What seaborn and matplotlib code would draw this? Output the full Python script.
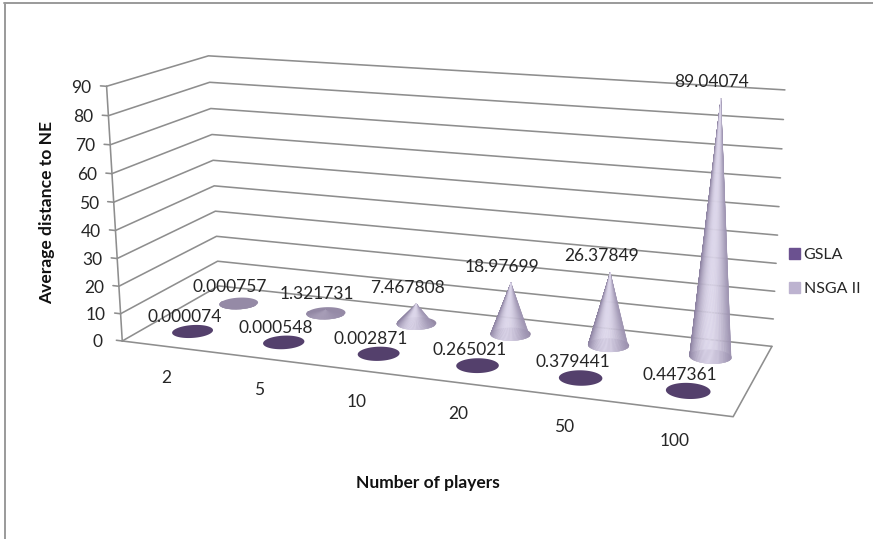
import numpy as np
import pandas as pd
import matplotlib
matplotlib.use("Agg")
import matplotlib.pyplot as plt
from matplotlib.collections import PolyCollection
from matplotlib.colors import to_rgb
from matplotlib.patches import Patch
import seaborn as sns

categories = ["2", "5", "10", "20", "50", "100"]
gsla = [0.000074, 0.000548, 0.002871, 0.265021, 0.379441, 0.447361]
nsga = [0.000757, 1.321731, 7.467808, 18.97699, 26.37849, 89.04074]
gsla_labels = ["0.000074", "0.000548", "0.002871", "0.265021", "0.379441", "0.447361"]
nsga_labels = ["0.000757", "1.321731", "7.467808", "18.97699", "26.37849", "89.04074"]
y_ticks = list(range(0, 100, 10))
Y_MAX = 90.0

sns.set_theme(style="white")
plt.rcParams["font.family"] = ["Lato", "DejaVu Sans"]

TEXT = "#262626"
GRID = "#8e8e8e"
DISC = "#54406c"
FLAT_CONE = "#958aa6"
CONE_DARK = np.array(to_rgb("#8a7f9f"))
CONE_LIGHT = np.array(to_rgb("#dcd6ea"))

# Perspective camera: box coordinates (x along categories, z into depth,
# h = value / Y_MAX) are fitted to where the box corners sit on the canvas.
box = np.array([(0, 0, 0), (0, 0, 1), (0, 1, 0), (0, 1, 1), (1, 1, 0), (1, 1, 1), (1, 0, 0)], float)
canvas = np.array([(122, 341), (107, 86), (219, 286), (208, 56), (772, 346), (785, 90), (733, 417)], float)
rows, rhs = [], []
for (bx, bz, bh), (u, v) in zip(box, canvas):
    rows.append([bx, bz, bh, 1, 0, 0, 0, 0, -u * bx, -u * bz, -u * bh])
    rows.append([0, 0, 0, 0, bx, bz, bh, 1, -v * bx, -v * bz, -v * bh])
    rhs += [u, v]
cam = np.append(np.linalg.lstsq(np.array(rows), np.array(rhs), rcond=None)[0], 1.0).reshape(3, 4)


def project(x, z, value):
    x, z, value = np.broadcast_arrays(np.asarray(x, float), np.asarray(z, float), np.asarray(value, float))
    pts = np.stack([x, z, value / Y_MAX, np.ones_like(x)], axis=-1) @ cam.T
    return pts[..., 0] / pts[..., 2], pts[..., 1] / pts[..., 2]


fig = plt.figure(figsize=(8.73, 5.39), dpi=100)
ax = fig.add_axes([0, 0, 1, 1])
ax.set_xlim(0, 873)
ax.set_ylim(539, 0)
ax.axis("off")

# Outer chart frame
ax.plot([5, 5], [2.5, 539], color="#9a9a9a", lw=1.4)
ax.plot([4.3, 873], [2.5, 2.5], color="#9a9a9a", lw=1.4)

# Walls, floor and gridlines
segments = []
for tick in y_ticks:
    xs, ys = project([0, 0, 1], [0, 1, 1], [tick] * 3)
    segments.append(pd.DataFrame({"px": xs, "py": ys, "seg": f"g{tick}", "step": range(3)}))
    tx, ty = project([-0.011, 0], [0, 0], [tick, tick])
    segments.append(pd.DataFrame({"px": tx, "py": ty, "seg": f"t{tick}", "step": range(2)}))
xs, ys = project([0, 0], [0, 0], [0, Y_MAX])
segments.append(pd.DataFrame({"px": xs, "py": ys, "seg": "axis", "step": range(2)}))
xs, ys = project([0, 1, 1], [0, 0, 1], [0, 0, 0])
segments.append(pd.DataFrame({"px": xs, "py": ys, "seg": "floor", "step": range(3)}))
lines = pd.concat(segments, ignore_index=True)
sns.lineplot(data=lines, x="px", y="py", units="seg", estimator=None, sort=False,
             color=GRID, lw=1.15, legend=False, ax=ax, zorder=1)
ax.set_xlabel("")
ax.set_ylabel("")

n = len(categories)
centers = (np.arange(n) + 0.5) / n
Z_GSLA, Z_NSGA = 0.25, 0.75
RX, RZ = 0.033, 0.105
theta = np.linspace(0, 2 * np.pi, 145)


def cone(cx, cz, value, zorder):
    bx, by = project(cx + RX * np.cos(theta), cz + RZ * np.sin(theta), 0)
    ax.fill(bx, by, color=FLAT_CONE, lw=0, zorder=zorder)
    tip_x, tip_y = project(cx, cz, value)
    body = min(1.0, value / 5.0)
    base = np.array(to_rgb(FLAT_CONE))
    # Facets facing the viewer, outermost first so the lit centre stays on top at the tip.
    front = sorted(range(72, 144), key=lambda i: -abs(np.cos(theta[i])))
    polys, colors = [], []
    for i in front:
        polys.append([(tip_x, tip_y), (bx[i], by[i]), (bx[i + 1], by[i + 1])])
        u = np.cos(theta[i] + np.pi / 144)
        glow = max(0.0, 1 - ((u - 0.1) / 1.1) ** 2) ** 1.3
        shade = CONE_DARK + (CONE_LIGHT - CONE_DARK) * glow
        colors.append(tuple(base * (1 - body) + shade * body))
    ax.add_collection(PolyCollection(polys, facecolors=colors, edgecolors=colors,
                                     linewidths=0.2, zorder=zorder + 0.1))


def disc(cx, cz):
    bx, by = project(cx + RX * np.cos(theta), cz + RZ * np.sin(theta), 0)
    ax.fill(bx, by, color=DISC, lw=0, zorder=3)


# Cones for the back series; the front series stays almost flat on the floor
for cx, value in zip(centers, nsga):
    cone(cx, Z_NSGA, value, 2)
for cx, value in zip(centers, gsla):
    disc(cx, Z_GSLA)

# Value labels sit just above each tip
label_font = dict(fontsize=12.5, color=TEXT, ha="center", va="center", zorder=6)
for cx, value, text in zip(centers, nsga, nsga_labels):
    px, py = project(cx, Z_NSGA, value)
    ax.text(px - 9, py - 16, text, **label_font)
for cx, value, text in zip(centers, gsla, gsla_labels):
    px, py = project(cx, Z_GSLA, value)
    ax.text(px - 8, py - 14.5, text, **label_font)

# Axis tick labels
for tick in y_ticks:
    px, py = project(0, 0, tick)
    ax.text(px - 25, py + 1.5, str(tick), fontsize=12.5, color=TEXT, ha="center", va="center")
for cx, text in zip(centers, categories):
    px, py = project(cx, 0, 0)
    ax.text(px - 1.5, py + 31.5, text, fontsize=12.5, color=TEXT, ha="center", va="center")

ax.text(47, 213, "Average distance to NE", rotation=90, fontsize=12.6, fontweight="bold",
        color="#111111", ha="center", va="center")
ax.text(428, 483, "Number of players", fontsize=12.5, fontweight="bold",
        color="#111111", ha="center", va="center")

handles = [Patch(color="#6b5190", label="GSLA"), Patch(color="#bdb3d0", label="NSGA II")]
ax.legend(handles=handles, loc="center left", bbox_to_anchor=(789 / 873, 1 - 272 / 539), frameon=False,
          fontsize=11.5, handlelength=0.7, handleheight=0.7, handletextpad=0.22,
          labelspacing=1.2, borderpad=0, borderaxespad=0, labelcolor=TEXT)

fig.savefig("out.png", dpi=100)
